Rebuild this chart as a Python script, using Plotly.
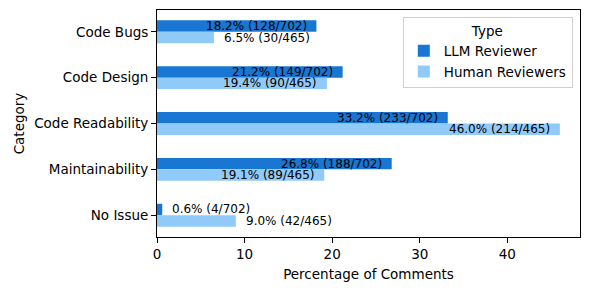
import plotly.graph_objects as go

categories = ["Code Bugs", "Code Design", "Code Readability", "Maintainability", "No Issue"]
llm_pct = [18.2, 21.2, 33.2, 26.8, 0.6]
llm_cnt = [128, 149, 233, 188, 4]
llm_total = 702
human_pct = [6.5, 19.4, 46.0, 19.1, 9.0]
human_cnt = [30, 90, 214, 89, 42]
human_total = 465

LLM_COLOR = "#1976D2"
HUMAN_COLOR = "#90CAF9"
FONT = "DejaVu Sans"

fig = go.Figure()
fig.add_trace(go.Bar(y=categories, x=llm_pct, orientation="h", name="LLM Reviewer",
                     marker=dict(color=LLM_COLOR, line=dict(width=0))))
fig.add_trace(go.Bar(y=categories, x=human_pct, orientation="h", name="Human Reviewers",
                     marker=dict(color=HUMAN_COLOR, line=dict(width=0))))

annotations = []
bar_w = 0.25
for i, cat in enumerate(categories):
    for pct, cnt, total, off in [(llm_pct[i], llm_cnt[i], llm_total, -bar_w / 2),
                                 (human_pct[i], human_cnt[i], human_total, bar_w / 2)]:
        label = f"{pct:.1f}% ({cnt}/{total})"
        if pct > 10:
            x, anchor = pct - 1, "right"
        else:
            x, anchor = pct + 1, "left"
        annotations.append(dict(x=x, y=i + off, xref="x", yref="y", text=label,
                                showarrow=False, xanchor=anchor, yanchor="middle",
                                font=dict(family=FONT, size=12, color="black"),
                                borderpad=0))

axis_common = dict(showline=True, linecolor="black", linewidth=1, mirror=True,
                   ticks="outside", ticklen=5, tickcolor="black", showgrid=False,
                   zeroline=False, automargin=False,
                   tickfont=dict(family=FONT, size=13.5, color="black"))

fig.update_layout(
    width=590, height=290,
    margin=dict(l=157, r=10, t=10, b=53),
    paper_bgcolor="white", plot_bgcolor="white",
    barmode="group", bargap=0.5, bargroupgap=0,
    font=dict(family=FONT, size=13.5, color="black"),
    xaxis=dict(range=[0, 48.3], tickvals=[0, 10, 20, 30, 40],
               title=dict(text="Percentage of Comments", font=dict(family=FONT, size=13.5), standoff=8),
               **axis_common),
    yaxis=dict(type="category", categoryorder="array", categoryarray=categories,
               range=[4.475, -0.475],
               title=dict(text="Category", font=dict(family=FONT, size=13.5), standoff=6),
               **axis_common),
    legend=dict(x=0.983, y=0.969, xanchor="right", yanchor="top",
                bordercolor="#d0d0d0", borderwidth=1, bgcolor="rgba(255,255,255,0.8)",
                title=dict(text="Type", side="top center", font=dict(family=FONT, size=13.5)),
                font=dict(family=FONT, size=13.5), tracegroupgap=0),
    annotations=annotations,
    showlegend=True,
)

fig.write_html("out.html", config={"displayModeBar": False},
               post_script="document.body.style.margin='0';")
